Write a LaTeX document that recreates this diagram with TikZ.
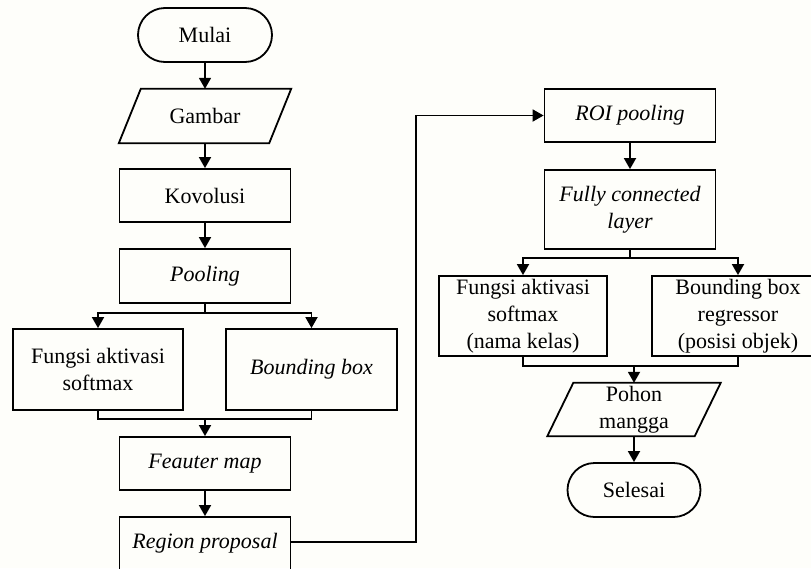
\documentclass[tikz,border=0pt]{standalone}
\usepackage{fontspec}
\setmainfont{Liberation Serif}
\usetikzlibrary{arrows.meta}
\definecolor{bgcol}{RGB}{254,254,250}
\begin{document}
\begin{tikzpicture}[x=1pt,y=-1pt,
  every node/.style={font=\fontsize{22}{27}\selectfont},
  ln/.style={line width=1.8pt},
  arr/.style={ln,-{Triangle[length=11pt,width=12pt]}},
  box/.style={draw,ln,rectangle,inner sep=0pt,align=center,minimum width=171pt},
  term/.style={draw,ln,rectangle,rounded corners=27pt,inner sep=0pt,minimum width=134pt,minimum height=54pt},
  io/.style={inner sep=0pt,align=center,minimum height=54pt},
]
\fill[bgcol] (0,0) rectangle (811,568);
\clip (0,0) rectangle (811,568);

% left column
\node[term] (mulai) at (205,35) {Mulai};
\node[io,minimum width=150pt] (gambar) at (205,116) {Gambar};
\draw[ln] ([xshift=11pt]gambar.north west) -- ([xshift=11pt]gambar.north east)
  -- ([xshift=-11pt]gambar.south east) -- ([xshift=-11pt]gambar.south west) -- cycle;
\node[box,minimum height=53pt] (kov) at (205,195.5) {Kovolusi};
\node[box,minimum height=54pt] (pool) at (205,276) {\itshape Pooling};
\node[box,minimum width=170pt,minimum height=81pt] (fsm) at (98,369.5) {Fungsi aktivasi\\softmax};
\node[box,minimum height=81pt] (bb) at (311.5,369.5) {\itshape Bounding box};
\node[box,minimum height=53pt] (fmap) at (205,463.5) {\itshape Feauter map};
\node[box,minimum height=53pt] (rp) at (205,543.5) {\itshape Region proposal};

% right column
\node[box,minimum height=53pt] (roi) at (630,115.5) {\itshape ROI pooling};
\node[box,minimum height=79pt] (fc) at (630,209.5) {\itshape Fully connected\\\itshape layer};
\node[box,minimum width=168pt,minimum height=80pt] (fsm2) at (523,316) {Fungsi aktivasi\\softmax\\(nama kelas)};
\node[box,minimum width=172pt,minimum height=80pt] (bbr) at (738,316) {Bounding box\\regressor\\(posisi objek)};
\node[io,minimum width=147pt,minimum height=53pt] (pohon) at (634,409.5) {Pohon\\mangga};
\draw[ln] ([xshift=13pt]pohon.north west) -- ([xshift=13pt]pohon.north east)
  -- ([xshift=-13pt]pohon.south east) -- ([xshift=-13pt]pohon.south west) -- cycle;
\node[term,minimum width=133pt] (selesai) at (634,490) {Selesai};

% connectors left
\draw[arr] (mulai.south) -- (gambar.north);
\draw[arr] (gambar.south) -- (kov.north);
\draw[arr] (kov.south) -- (pool.north);
\coordinate (sL) at (pool.south |- 0,313);
\draw[ln] (pool.south) -- (sL);
\draw[arr] (sL) -| (fsm.north);
\draw[arr] (sL) -| (bb.north);
\coordinate (mL) at (fmap.north |- 0,419);
\draw[ln] (fsm.south) |- (mL);
\draw[ln] (bb.south) |- (mL);
\draw[arr] (mL) -- (fmap.north);
\draw[arr] (fmap.south) -- (rp.north);

% link
\coordinate (turn) at (416,542);
\draw[arr] (rp.east |- turn) -- (turn) |- (roi.west);

% connectors right
\draw[arr] (roi.south) -- (fc.north);
\coordinate (sR) at (fc.south |- 0,258);
\draw[ln] (fc.south) -- (sR);
\draw[arr] (sR) -| (fsm2.north);
\draw[arr] (sR) -| (bbr.north);
\coordinate (mR) at (pohon.north |- 0,366);
\draw[ln] (fsm2.south) |- (mR);
\draw[ln] (bbr.south) |- (mR);
\draw[arr] (mR) -- (pohon.north);
\draw[arr] (pohon.south) -- (selesai.north);
\end{tikzpicture}
\end{document}
